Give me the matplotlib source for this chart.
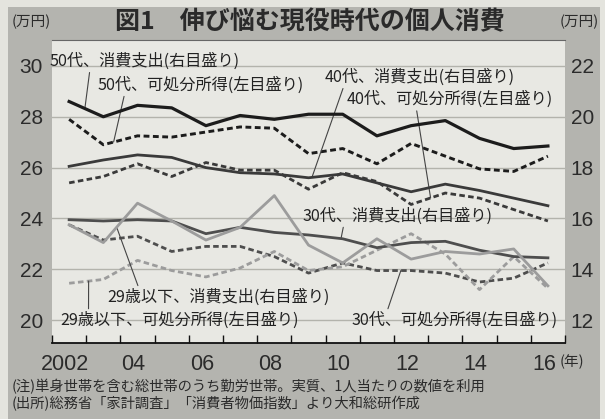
import numpy as np
import matplotlib.pyplot as plt
import matplotlib.transforms as mtransforms
from matplotlib.patches import Rectangle

plt.rcParams['font.family'] = ['Noto Sans CJK JP', 'DejaVu Sans']

years = np.arange(2002, 2017)
xlabels = ['2002', '04', '06', '08', '10', '12', '14', '16']
left_ticks = [20, 22, 24, 26, 28, 30]
right_ticks = [12, 14, 16, 18, 20, 22]

# 消費支出 (右目盛り, 万円)
spend50 = [20.6, 20.0, 20.45, 20.35, 19.65, 20.05, 19.9, 20.1, 20.1, 19.25, 19.65, 19.85, 19.15, 18.75, 18.85]
spend40 = [18.05, 18.3, 18.5, 18.4, 18.0, 17.8, 17.75, 17.6, 17.75, 17.4, 17.05, 17.35, 17.1, 16.8, 16.5]
spend30 = [15.95, 15.9, 15.95, 15.9, 15.4, 15.65, 15.45, 15.35, 15.2, 14.85, 15.05, 15.1, 14.75, 14.5, 14.45]
spend29 = [15.75, 15.05, 16.6, 15.9, 15.15, 15.65, 16.9, 14.95, 14.25, 15.2, 14.4, 14.7, 14.6, 14.8, 13.35]

# 可処分所得 (左目盛り, 万円)
inc50 = [27.9, 26.9, 27.25, 27.2, 27.4, 27.6, 27.55, 26.55, 26.75, 26.15, 26.95, 26.45, 25.95, 25.85, 26.45]
inc40 = [25.4, 25.65, 26.15, 25.65, 26.2, 25.9, 25.9, 25.15, 25.8, 25.45, 24.55, 25.0, 24.8, 24.35, 23.9]
inc30 = [23.75, 23.15, 23.3, 22.7, 22.9, 22.9, 22.5, 21.85, 22.25, 21.95, 21.95, 21.85, 21.5, 21.65, 22.25]
inc29 = [21.45, 21.6, 22.35, 21.95, 21.7, 22.05, 22.7, 21.95, 22.1, 22.75, 23.4, 22.6, 21.2, 22.5, 21.25]

fig = plt.figure(figsize=(6.05, 4.19), dpi=100)
fig.patch.set_facecolor('#e4e4de')
fig.add_artist(Rectangle((8 / 605, 0), 592 / 605, 1 - 7 / 419, transform=fig.transFigure,
                         facecolor='#b4b4af', edgecolor='none', zorder=0))

ax = fig.add_axes([0.086, 0.1814, 0.8479, 0.7231])
ax.set_facecolor('#e8e8e3')
ax2 = ax.twinx()

ylo, yhi = 19.10, 31.02
ax.set_ylim(ylo, yhi)
ax2.set_ylim(ylo - 8, yhi - 8)
ax.set_xlim(2001.5, 2016.47)

for s in ['left', 'right']:
    ax.spines[s].set_visible(False)
for s in ax2.spines.values():
    s.set_visible(False)
ax.spines['top'].set_color('#666666')
ax.spines['top'].set_linewidth(0.8)
ax.spines['bottom'].set_color('#111111')
ax.spines['bottom'].set_linewidth(1.3)

ax.grid(axis='y', color='#b3b3ac', lw=1.0)
ax.set_axisbelow(True)

tickfont = dict(fontfamily='Liberation Sans', color='#2b2b2b')
ax.set_yticks(left_ticks, labels=[str(t) for t in left_ticks], fontsize=15, **tickfont)
ax2.set_yticks(right_ticks, labels=[str(t) for t in right_ticks], fontsize=15, **tickfont)
ax.tick_params(axis='y', length=0, pad=6.5)
ax2.tick_params(axis='y', length=0, pad=4)

ax.set_xticks(years[::2], labels=xlabels, fontsize=15.5, **tickfont)
ax.set_xticks(np.arange(2001.5, 2017, 1), minor=True)
ax.tick_params(axis='x', which='major', length=0, pad=8)
ax.tick_params(axis='x', which='minor', direction='in', length=6, width=1, color='#111111')
shift = mtransforms.ScaledTranslation(-4 / 100, 0, fig.dpi_scale_trans)
for lbl in ax.get_xticklabels():
    lbl.set_transform(lbl.get_transform() + shift)

dash = (2.0, 1.2)
ax2.plot(years, spend50, color='#1c1c1c', lw=2.3)
ax.plot(years, inc50, color='#1c1c1c', lw=2.1, dashes=dash)
ax2.plot(years, spend40, color='#3a3a3a', lw=2.0)
ax.plot(years, inc40, color='#3a3a3a', lw=2.0, dashes=dash)
ax2.plot(years, spend30, color='#4e4e4e', lw=2.0)
ax.plot(years, inc30, color='#4e4e4e', lw=2.0, dashes=dash)
ax2.plot(years, spend29, color='#9c9c9c', lw=2.0)
ax.plot(years, inc29, color='#9c9c9c', lw=2.0, dashes=dash)

# labels with leader lines: (text, series, axis, year on line, text pos, relpos)
labels = [
    ('50代、消費支出(右目盛り)', spend50, ax2, 2002.46, (2001.44, 30.19), (0.21, 0)),
    ('50代、可処分所得(左目盛り)', inc50, ax, 2003.3, (2002.84, 29.25), (0.13, 0)),
    ('40代、消費支出(右目盛り)', spend40, ax2, 2009.1, (2009.48, 29.56), (0.10, 0)),
    ('40代、可処分所得(左目盛り)', inc40, ax, 2012.57, (2010.1, 28.68), (0.34, 0)),
    ('30代、消費支出(右目盛り)', spend30, ax2, 2009.95, (2008.81, 24.1), (0.22, 0)),
    ('29歳以下、消費支出(右目盛り)', spend29, ax2, 2003.39, (2003.13, 20.91), (0.14, 1)),
    ('29歳以下、可処分所得(左目盛り)', inc29, ax, 2002.57, (2001.73, 20.0), (0.12, 1)),
    ('30代、可処分所得(左目盛り)', inc30, ax, 2011.7, (2010.27, 20.0), (0.17, 1)),
]
for text, series, a, yr, pos, rel in labels:
    ax.annotate(text, xy=(yr, np.interp(yr, years, series)), xycoords=a.transData,
                xytext=pos, textcoords=ax.transData, ha='left', va='center',
                fontsize=11.6, color='#222222', annotation_clip=False, zorder=5,
                arrowprops=dict(arrowstyle='-', color='#444444', lw=0.8,
                                shrinkA=0, shrinkB=0, relpos=rel))

fig.text(310 / 605, 1 - 22 / 419, '図1\u3000伸び悩む現役時代の個人消費', ha='center', va='center',
         fontsize=18, fontweight='bold', color='#2a2a2a')
fig.text(12 / 605, 1 - 22 / 419, '(万円)', ha='left', va='center', fontsize=10.5, color='#2b2b2b')
fig.text(560 / 605, 1 - 22 / 419, '(万円)', ha='left', va='center', fontsize=10.5, color='#2b2b2b')
fig.text(560 / 605, 1 - 362 / 419, '(年)', ha='left', va='center', fontsize=10.5, color='#2b2b2b')

fig.text(12 / 605, 1 - 387 / 419, '(注)単身世帯を含む総世帯のうち勤労世帯。実質、1人当たりの数値を利用',
         ha='left', va='center', fontsize=10.3, color='#2b2b2b')
fig.text(12 / 605, 1 - 404 / 419, '(出所)総務省「家計調査」「消費者物価指数」より大和総研作成',
         ha='left', va='center', fontsize=10.3, color='#2b2b2b')

fig.savefig('out.png', dpi=100, facecolor=fig.get_facecolor())
